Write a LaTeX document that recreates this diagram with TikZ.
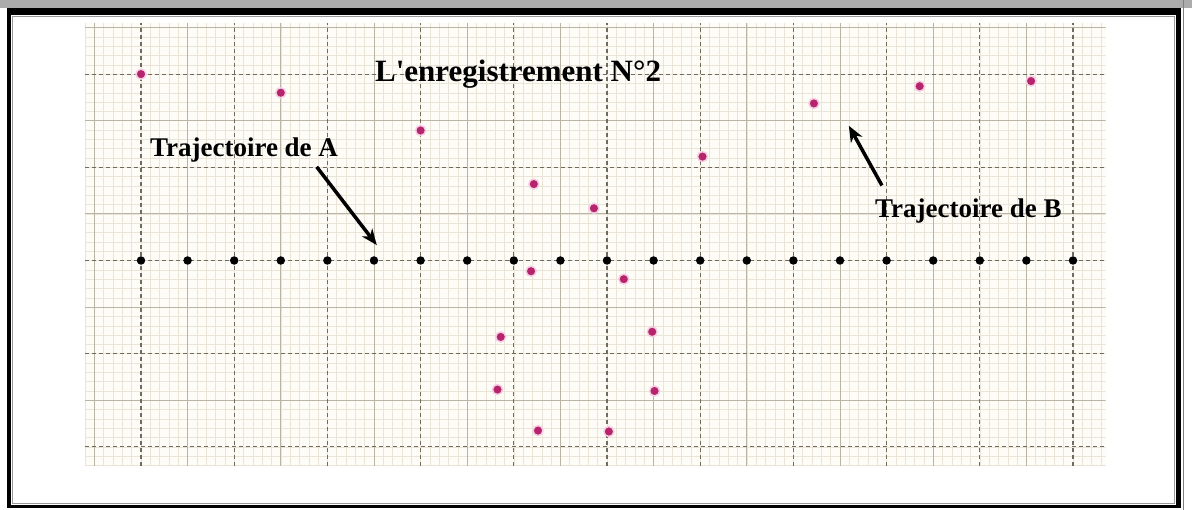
\documentclass[tikz,border=0pt]{standalone}
\usepackage{fontspec}
\setmainfont{Liberation Serif}[Ligatures=TeXOff]
\usetikzlibrary{arrows.meta}

\definecolor{paper}{RGB}{254,252,246}
\definecolor{fine}{RGB}{234,229,216}
\definecolor{major}{RGB}{186,180,164}
\definecolor{dashgray}{RGB}{112,107,92}
\definecolor{pointB}{RGB}{182,36,108}
\definecolor{halo}{RGB}{246,206,228}

\tikzset{
  ptA/.style={circle, fill=black, inner sep=0pt, minimum size=8.5pt},
  ptB/.style={circle, fill=pointB, draw=halo, line width=1.5pt, inner sep=0pt, minimum size=10pt},
  majorline/.style={major, line width=0.9pt},
  dashline/.style={dashgray, line width=1.1pt, dash pattern=on 4pt off 3pt},
  txt/.style={inner sep=0pt, anchor=base west, font=\fontsize{27}{31}\selectfont\bfseries},
  pointer/.style={line width=3.5pt, -{Stealth[length=16pt, width=13pt, inset=5pt]}}
}

\begin{document}
\begin{tikzpicture}[x=1pt, y=1pt]
  \useasboundingbox (0,0) rectangle (1192,510);
  \fill[gray!65] (0,502) rectangle (1192,510);
  \fill[black] (7,2) rectangle (1181,502);
  \fill[white] (11,5) rectangle (1176,495);
  \draw[gray!80, line width=0.8pt] (12.4,6.2) rectangle (1174.6,493.6);
  \draw[gray, line width=1pt] (1183.3,0) -- (1183.3,510);
  \begin{scope}[shift={(141,249.5)}, x=46.6pt, y=46.6pt]
    \fill[paper] (-1.2,-4.4) rectangle (20.7,5.1);
    \begin{scope}
      \clip (-1.2,-4.4) rectangle (20.7,5.1);
      \draw[fine, line width=0.45pt] (-1.2,-4.4) grid [step=0.2] (20.7,5.1);
      \foreach \i in {-1,1,...,19}
        \draw[majorline] (\i,-4.4) -- (\i,5.1);
      \foreach \j in {-3,-1,...,5}
        \draw[majorline] (-1.2,\j) -- (20.7,\j);
      \foreach \i in {0,2,...,20}
        \draw[dashline] (\i,-4.4) -- (\i,5.1);
      \foreach \j in {-4,-2,...,4}
        \draw[dashline] (-1.2,\j) -- (20.7,\j);
    \end{scope}
    \foreach \i in {0,...,20}
      \node[ptA] (a\i) at (\i,0) {};
    \foreach \x/\y [count=\k] in {0/4, 3/3.6, 6/2.79, 8.43/1.64, 9.72/1.12,
        8.37/-0.23, 10.36/-0.4, 7.72/-1.64, 10.97/-1.53, 7.65/-2.77,
        11.02/-2.8, 8.52/-3.65, 10.04/-3.67, 12.05/2.23, 14.44/3.37,
        16.71/3.74, 19.1/3.85}
      \node[ptB] (b\k) at (\x,\y) {};
    \node[txt, font=\fontsize{31}{36}\selectfont\bfseries] (title) at (5.02,3.84) {L'enregistrement N°2};
    \node[txt] (labelA) at (0.19,2.23) {Trajectoire de A};
    \node[txt] (labelB) at (15.75,0.93) {Trajectoire de B};
    \coordinate (tailA) at (3.77,2.01);
    \coordinate (tipA) at (5.06,0.33);
    \coordinate (tailB) at (15.9,1.61);
    \coordinate (tipB) at (15.19,2.89);
    \draw[pointer] (tailA) -- (tipA);
    \draw[pointer] (tailB) -- (tipB);
  \end{scope}
\end{tikzpicture}
\end{document}
